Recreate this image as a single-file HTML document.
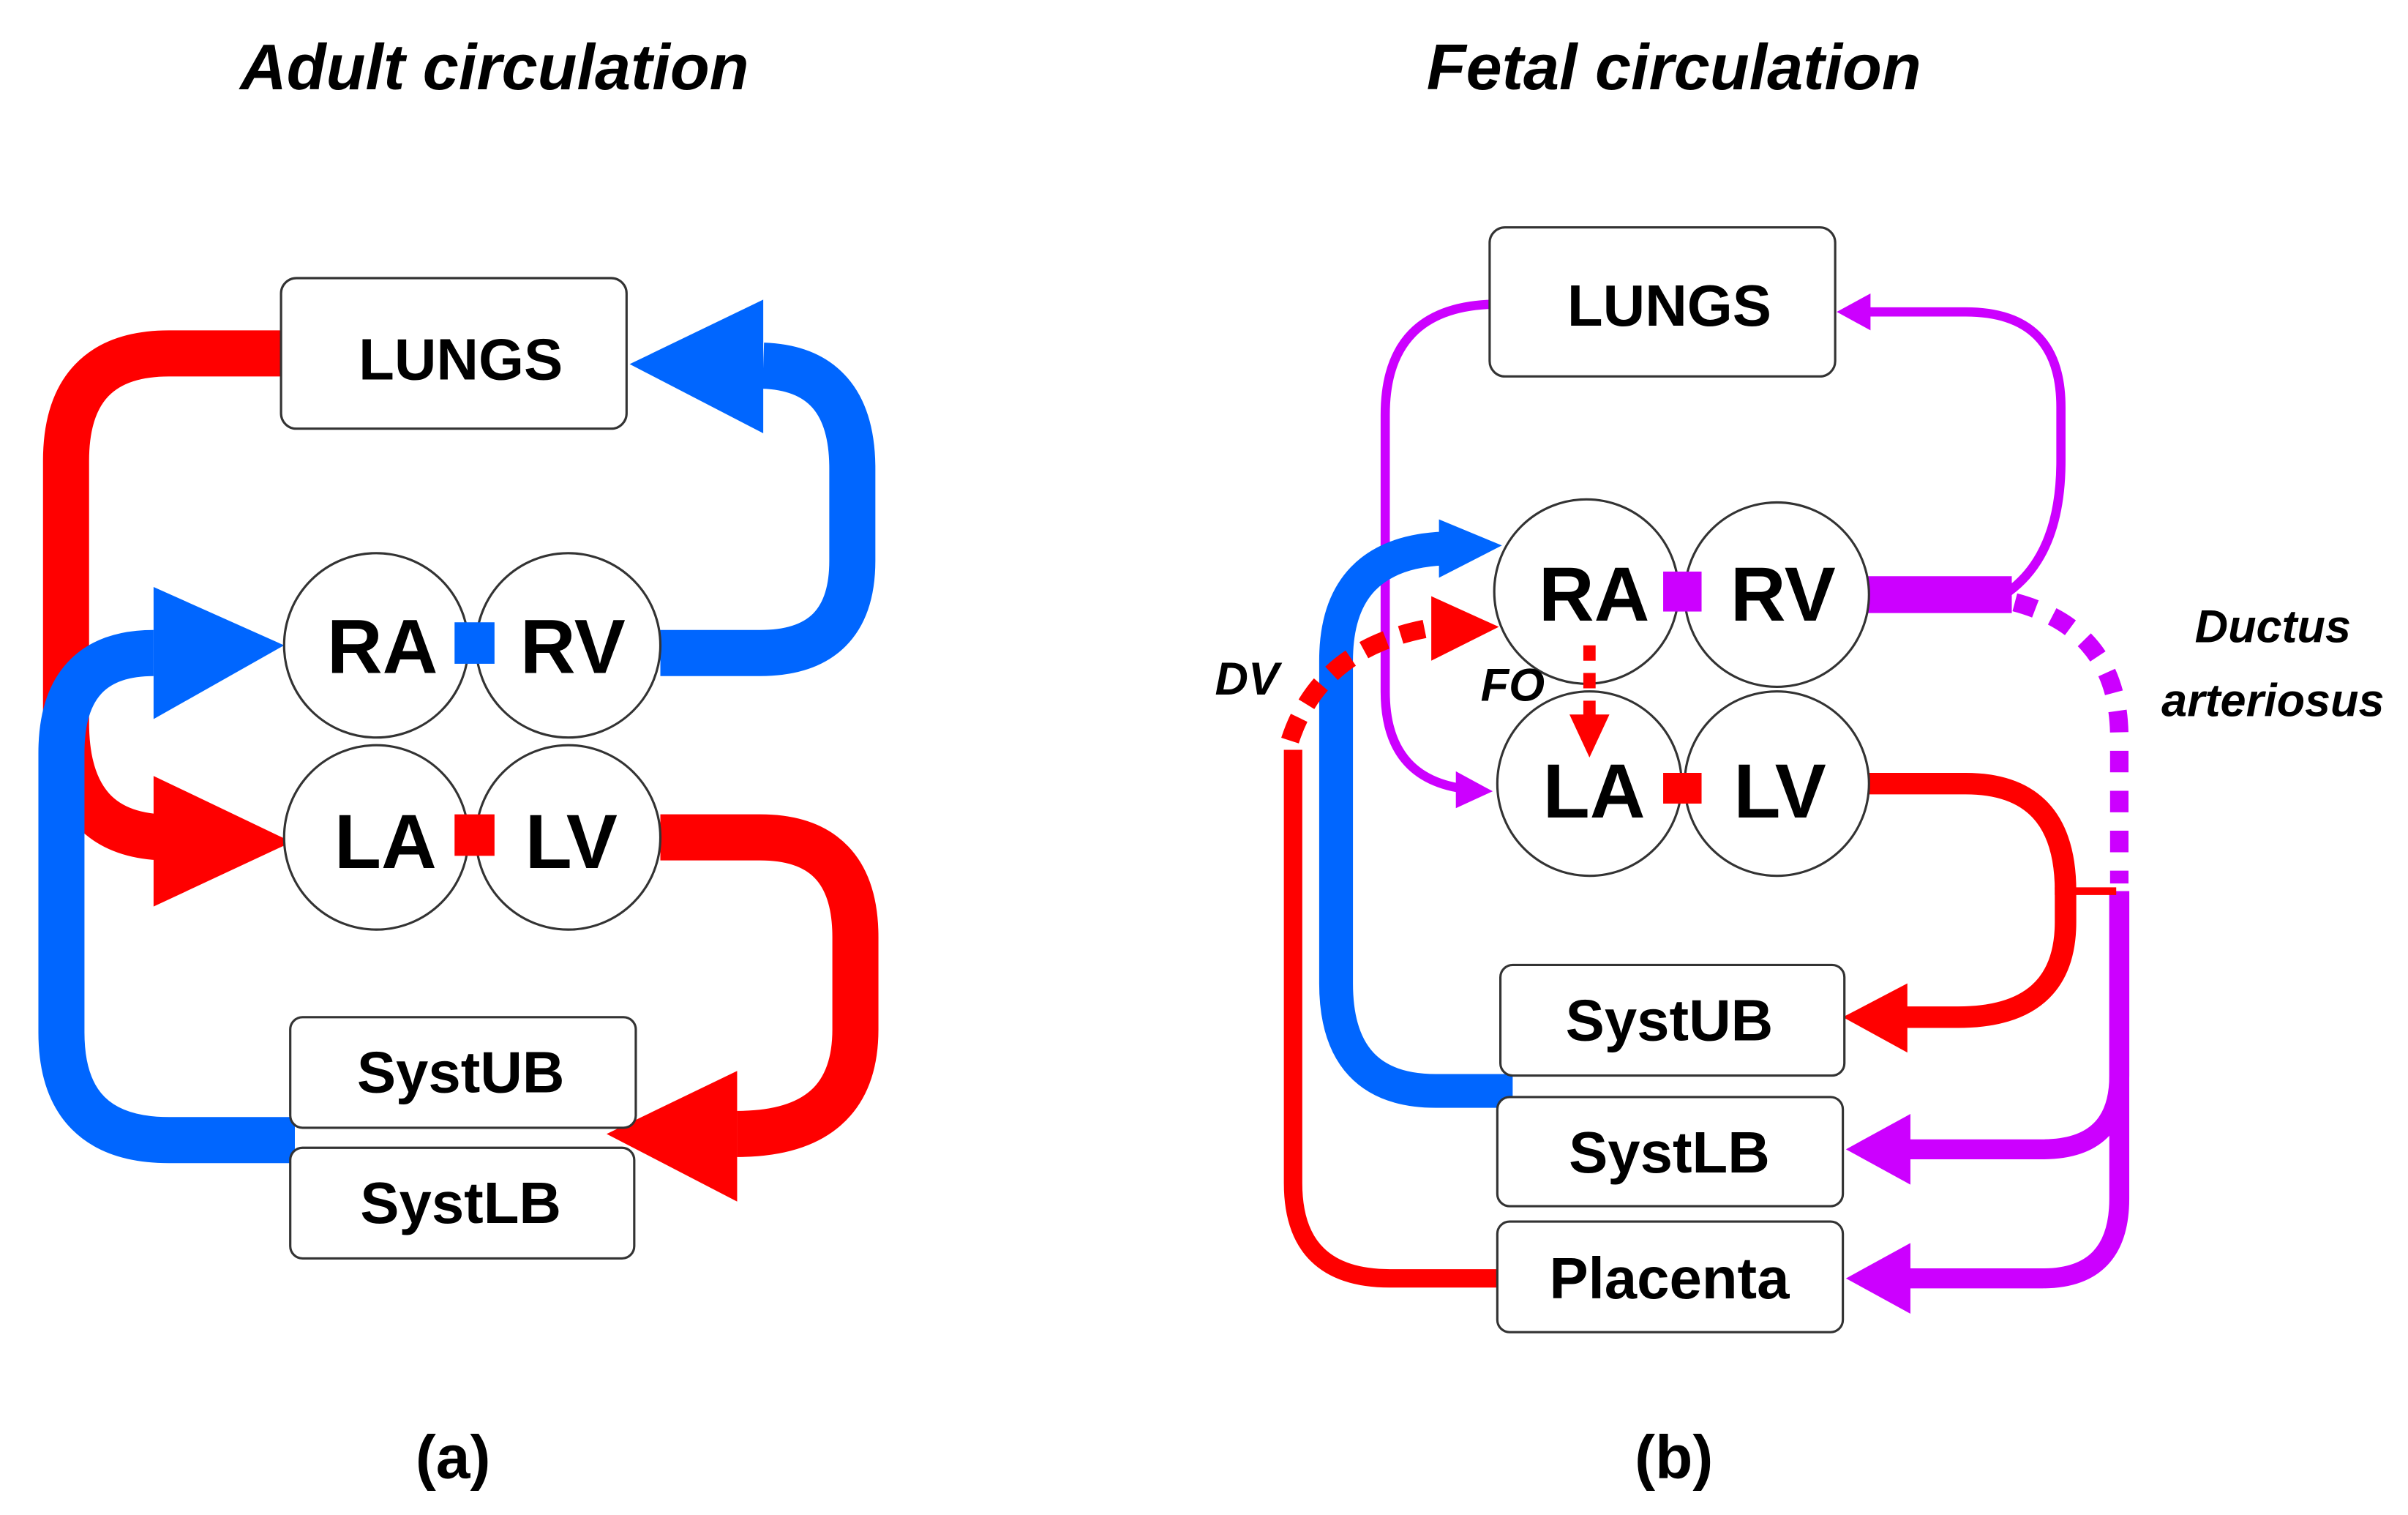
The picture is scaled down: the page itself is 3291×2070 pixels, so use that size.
<!DOCTYPE html>
<html><head><meta charset="utf-8"><style>
html,body{margin:0;padding:0;background:#fff;}
svg{display:block;}
text{font-family:"Liberation Sans",sans-serif;font-weight:bold;fill:#000;}
</style></head><body>
<svg width="3291" height="2070" viewBox="0 0 1568 986" preserveAspectRatio="none" xmlns="http://www.w3.org/2000/svg">
<rect width="1568" height="986" fill="#fff"/>
<text x="322" y="58" font-size="42" font-style="italic" text-anchor="middle">Adult circulation</text>
<text x="1090" y="58" font-size="42" font-style="italic" text-anchor="middle">Fetal circulation</text>

<path d="M185 230 H110 Q43 230 43 300 V470 Q43 545 110 545" fill="none" stroke="#ff0000" stroke-width="30"/>
<polygon points="100,505 190,548 100,590" fill="#ff0000"/>
<path d="M430 425 H495 Q555 425 555 365 V305 Q555 240 497 238" fill="none" stroke="#0066ff" stroke-width="30"/>
<polygon points="497,195 410,237 497,282" fill="#0066ff"/>
<path d="M192 742 H110 Q40 742 40 672 V490 Q40 425 100 425" fill="none" stroke="#0066ff" stroke-width="30"/>
<polygon points="100,382 185,420 100,468" fill="#0066ff"/>
<path d="M430 545 H495 Q557 545 557 610 V670 Q557 738 480 738" fill="none" stroke="#ff0000" stroke-width="30"/>
<polygon points="480,697 395,738 480,782" fill="#ff0000"/>
<rect x="183" y="181" width="225" height="98" rx="10" fill="#fff" stroke="#333" stroke-width="1.5"/>
<text x="300" y="247" font-size="38" text-anchor="middle">LUNGS</text>
<rect x="189" y="662" width="225" height="72" rx="8" fill="#fff" stroke="#333" stroke-width="1.5"/>
<text x="300" y="711" font-size="38" text-anchor="middle">SystUB</text>
<rect x="189" y="747" width="224" height="72" rx="8" fill="#fff" stroke="#333" stroke-width="1.5"/>
<text x="300" y="796" font-size="38" text-anchor="middle">SystLB</text>
<circle cx="245" cy="420" r="60" fill="#fff" stroke="#333" stroke-width="1.5"/>
<circle cx="370" cy="420" r="60" fill="#fff" stroke="#333" stroke-width="1.5"/>
<circle cx="245" cy="545" r="60" fill="#fff" stroke="#333" stroke-width="1.5"/>
<circle cx="370" cy="545" r="60" fill="#fff" stroke="#333" stroke-width="1.5"/>
<rect x="296" y="405" width="26" height="27" fill="#0066ff"/>
<rect x="296" y="530" width="26" height="27" fill="#ff0000"/>
<text x="249" y="438" font-size="50" text-anchor="middle">RA</text>
<text x="373" y="438" font-size="50" text-anchor="middle">RV</text>
<text x="251" y="565" font-size="50" text-anchor="middle">LA</text>
<text x="372" y="565" font-size="50" text-anchor="middle">LV</text>
<text x="295" y="962" font-size="40" text-anchor="middle">(a)</text>

<path d="M972 198 Q902 200 902 270 V450 Q902 510 960 514" fill="none" stroke="#cc00ff" stroke-width="6"/>
<polygon points="948,502 972,515 948,526" fill="#cc00ff"/>
<path d="M1308 385 Q1342 360 1342 300 V265 Q1342 203 1280 203 H1210" fill="none" stroke="#cc00ff" stroke-width="6"/>
<polygon points="1218,191 1196,203 1218,215" fill="#cc00ff"/>
<rect x="1215" y="375" width="95" height="24" fill="#cc00ff"/>
<path d="M1312 392 Q1380 410 1380 480 V575" fill="none" stroke="#cc00ff" stroke-width="12" stroke-dasharray="14 12"/>
<path d="M1380 580 V700 Q1380 748 1330 748 H1240" fill="none" stroke="#cc00ff" stroke-width="13"/>
<path d="M1380 580 V780 Q1380 832 1330 832 H1240" fill="none" stroke="#cc00ff" stroke-width="13"/>
<polygon points="1244,725 1202,748 1244,771" fill="#cc00ff"/>
<polygon points="1244,809 1202,832 1244,855" fill="#cc00ff"/>
<path d="M1215 510 H1280 Q1345 510 1345 580 V600 Q1345 662 1275 662 H1240" fill="none" stroke="#ff0000" stroke-width="14"/>
<line x1="1338" y1="580" x2="1378" y2="580" stroke="#ff0000" stroke-width="5"/>
<polygon points="1242,640 1200,662 1242,685" fill="#ff0000"/>
<path d="M985 710 H935 Q870 710 870 640 V430 Q870 360 940 357" fill="none" stroke="#0066ff" stroke-width="22"/>
<polygon points="937,338 978,355 937,376" fill="#0066ff"/>
<path d="M840 482 Q860 420 935 408" fill="none" stroke="#ff0000" stroke-width="12" stroke-dasharray="16 10"/>
<polygon points="932,388 976,408 932,430" fill="#ff0000"/>
<path d="M975 832 H905 Q842 832 842 770 V488" fill="none" stroke="#ff0000" stroke-width="12"/>
<rect x="970" y="148" width="225" height="97" rx="10" fill="#fff" stroke="#333" stroke-width="1.5"/>
<text x="1087" y="212" font-size="38" text-anchor="middle">LUNGS</text>
<rect x="977" y="628" width="224" height="72" rx="8" fill="#fff" stroke="#333" stroke-width="1.5"/>
<text x="1087" y="677" font-size="38" text-anchor="middle">SystUB</text>
<rect x="975" y="714" width="225" height="71" rx="8" fill="#fff" stroke="#333" stroke-width="1.5"/>
<text x="1087" y="763" font-size="38" text-anchor="middle">SystLB</text>
<rect x="975" y="795" width="225" height="72" rx="8" fill="#fff" stroke="#333" stroke-width="1.5"/>
<text x="1087" y="845" font-size="38" text-anchor="middle">Placenta</text>
<circle cx="1033" cy="385" r="60" fill="#fff" stroke="#333" stroke-width="1.5"/>
<circle cx="1157" cy="387" r="60" fill="#fff" stroke="#333" stroke-width="1.5"/>
<circle cx="1035" cy="510" r="60" fill="#fff" stroke="#333" stroke-width="1.5"/>
<circle cx="1157" cy="510" r="60" fill="#fff" stroke="#333" stroke-width="1.5"/>
<rect x="1083" y="372" width="25" height="26" fill="#cc00ff"/>
<rect x="1083" y="503" width="25" height="20" fill="#ff0000"/>
<line x1="1035" y1="420" x2="1035" y2="470" stroke="#ff0000" stroke-width="8" stroke-dasharray="10 8"/>
<polygon points="1022,465 1048,465 1035,493" fill="#ff0000"/>
<text x="1038" y="404" font-size="50" text-anchor="middle">RA</text>
<text x="1161" y="404" font-size="50" text-anchor="middle">RV</text>
<text x="1038" y="532" font-size="50" text-anchor="middle">LA</text>
<text x="1159" y="532" font-size="50" text-anchor="middle">LV</text>
<text x="812" y="452" font-size="30" font-style="italic" text-anchor="middle">DV</text>
<text x="985" y="456" font-size="30" font-style="italic" text-anchor="middle">FO</text>
<text x="1480" y="418" font-size="30" font-style="italic" text-anchor="middle">Ductus</text>
<text x="1480" y="466" font-size="30" font-style="italic" text-anchor="middle">arteriosus</text>
<text x="1090" y="962" font-size="40" text-anchor="middle">(b)</text>
</svg>
</body></html>
